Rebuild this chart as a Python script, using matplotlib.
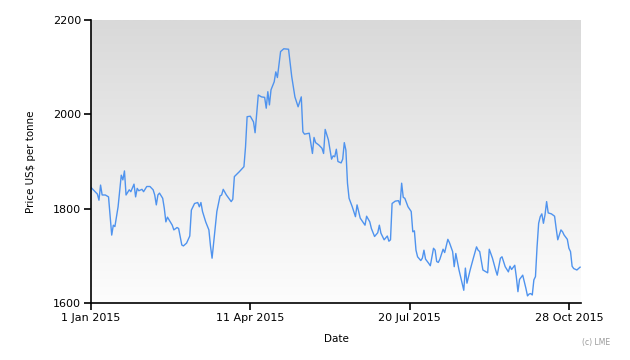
#!/usr/bin/env python3
import numpy as np
import pandas as pd
import matplotlib
matplotlib.use("Agg")
import matplotlib.pyplot as plt
import matplotlib.dates as mdates

# LME price series
dates = [
    "2015-01-01", "2015-01-05", "2015-01-06", "2015-01-07", "2015-01-08", "2015-01-10",
    "2015-01-12", "2015-01-14", "2015-01-15", "2015-01-16", "2015-01-18", "2015-01-20",
    "2015-01-21", "2015-01-22", "2015-01-23", "2015-01-25", "2015-01-26", "2015-01-28",
    "2015-01-29", "2015-01-30", "2015-01-31", "2015-02-02", "2015-02-03", "2015-02-05",
    "2015-02-07", "2015-02-09", "2015-02-10", "2015-02-11", "2015-02-12", "2015-02-13",
    "2015-02-15", "2015-02-16", "2015-02-17", "2015-02-18", "2015-02-21", "2015-02-22",
    "2015-02-24", "2015-02-25", "2015-02-27", "2015-02-28", "2015-03-02", "2015-03-04",
    "2015-03-05", "2015-03-07", "2015-03-09", "2015-03-10", "2015-03-11", "2015-03-12",
    "2015-03-14", "2015-03-16", "2015-03-17", "2015-03-18", "2015-03-20", "2015-03-21",
    "2015-03-23", "2015-03-24", "2015-03-25", "2015-03-27", "2015-03-30", "2015-03-31",
    "2015-04-01", "2015-04-04", "2015-04-07", "2015-04-08", "2015-04-09", "2015-04-11",
    "2015-04-13", "2015-04-14", "2015-04-16", "2015-04-18", "2015-04-20", "2015-04-21",
    "2015-04-22", "2015-04-23", "2015-04-24", "2015-04-26", "2015-04-27", "2015-04-28",
    "2015-04-30", "2015-05-02", "2015-05-05", "2015-05-07", "2015-05-09", "2015-05-11",
    "2015-05-13", "2015-05-14", "2015-05-15", "2015-05-18", "2015-05-20", "2015-05-21",
    "2015-05-22", "2015-05-24", "2015-05-26", "2015-05-27", "2015-05-28", "2015-05-30",
    "2015-06-01", "2015-06-02", "2015-06-03", "2015-06-04", "2015-06-05", "2015-06-07",
    "2015-06-08", "2015-06-09", "2015-06-10", "2015-06-11", "2015-06-12", "2015-06-14",
    "2015-06-16", "2015-06-17", "2015-06-19", "2015-06-22", "2015-06-23", "2015-06-25",
    "2015-06-26", "2015-06-28", "2015-06-30", "2015-07-01", "2015-07-02", "2015-07-04",
    "2015-07-06", "2015-07-07", "2015-07-08", "2015-07-09", "2015-07-11", "2015-07-13",
    "2015-07-14", "2015-07-15", "2015-07-16", "2015-07-17", "2015-07-19", "2015-07-21",
    "2015-07-22", "2015-07-23", "2015-07-24", "2015-07-25", "2015-07-27", "2015-07-28",
    "2015-07-29", "2015-07-30", "2015-08-01", "2015-08-02", "2015-08-04", "2015-08-05",
    "2015-08-06", "2015-08-07", "2015-08-08", "2015-08-10", "2015-08-11", "2015-08-13",
    "2015-08-14", "2015-08-16", "2015-08-17", "2015-08-18", "2015-08-20", "2015-08-21",
    "2015-08-23", "2015-08-24", "2015-08-25", "2015-08-27", "2015-08-29", "2015-08-31",
    "2015-09-01", "2015-09-02", "2015-09-04", "2015-09-06", "2015-09-07", "2015-09-08",
    "2015-09-10", "2015-09-12", "2015-09-13", "2015-09-15", "2015-09-16", "2015-09-18",
    "2015-09-20", "2015-09-21", "2015-09-22", "2015-09-24", "2015-09-25", "2015-09-26",
    "2015-09-27", "2015-09-29", "2015-10-01", "2015-10-02", "2015-10-03", "2015-10-04",
    "2015-10-05", "2015-10-06", "2015-10-07", "2015-10-08", "2015-10-09", "2015-10-10",
    "2015-10-11", "2015-10-12", "2015-10-13", "2015-10-14", "2015-10-15", "2015-10-17",
    "2015-10-19", "2015-10-20", "2015-10-21", "2015-10-23", "2015-10-24", "2015-10-25",
    "2015-10-27", "2015-10-28", "2015-10-29", "2015-10-30", "2015-10-31", "2015-11-02",
    "2015-11-04",
]
prices = [
    1845, 1831, 1818, 1850, 1829, 1829,
    1825, 1744, 1765, 1762, 1804, 1871,
    1861, 1880, 1829, 1840, 1836, 1852,
    1825, 1843, 1838, 1841, 1836, 1847,
    1847, 1840, 1829, 1808, 1829, 1833,
    1822, 1801, 1772, 1782, 1765, 1755,
    1760, 1758, 1723, 1721, 1727, 1742,
    1797, 1811, 1813, 1804, 1813, 1794,
    1772, 1755, 1721, 1695, 1762, 1794,
    1827, 1829, 1841, 1829, 1815, 1820,
    1868, 1878, 1889, 1931, 1995, 1996,
    1984, 1961, 2041, 2037, 2036, 2013,
    2048, 2020, 2052, 2069, 2090, 2078,
    2133, 2139, 2138, 2080, 2037, 2016,
    2037, 1963, 1958, 1960, 1917, 1951,
    1940, 1935, 1928, 1917, 1968, 1946,
    1905, 1912, 1910, 1926, 1900, 1897,
    1905, 1940, 1924, 1854, 1822, 1804,
    1783, 1808, 1780, 1765, 1784, 1772,
    1758, 1741, 1749, 1765, 1748, 1734,
    1742, 1731, 1734, 1811, 1816, 1817,
    1808, 1854, 1824, 1822, 1804, 1794,
    1751, 1753, 1712, 1698, 1690, 1695,
    1712, 1693, 1684, 1679, 1716, 1712,
    1688, 1686, 1693, 1714, 1707, 1735,
    1728, 1709, 1677, 1705, 1670, 1656,
    1627, 1674, 1642, 1670, 1695, 1719,
    1712, 1709, 1670, 1666, 1664, 1714,
    1695, 1670, 1659, 1695, 1698, 1677,
    1666, 1678, 1671, 1680, 1655, 1624,
    1650, 1659, 1631, 1615, 1619, 1620,
    1617, 1649, 1656, 1719, 1769, 1783,
    1789, 1769, 1787, 1815, 1791, 1789,
    1784, 1758, 1734, 1755, 1751, 1744,
    1735, 1716, 1709, 1678, 1673, 1670,
    1676,
]

tick_dates = ["2015-01-01", "2015-04-11", "2015-07-20", "2015-10-28"]
y_ticks = [1600, 1800, 2000, 2200]

x = pd.to_datetime(dates)

fig = plt.figure(figsize=(6.3, 3.6), dpi=100)
ax = fig.add_axes([91 / 630, 1 - 303 / 360, 490 / 630, 283 / 360])

# grey-to-white vertical gradient background
grad = np.linspace(0, 1, 256).reshape(-1, 1)
ax.imshow(grad, extent=[0, 1, 0, 1], transform=ax.transAxes, aspect="auto",
          cmap=plt.matplotlib.colors.LinearSegmentedColormap.from_list(
              "bg", ["#fdfdfd", "#d9d9d9"]),
          origin="lower", zorder=0)

ax.plot(x, prices, color="#4f93ee", lw=1.0, zorder=2)

ax.set_xlim(pd.Timestamp("2015-01-01"), pd.Timestamp("2015-11-04 14:00"))
ax.set_ylim(1600, 2200)

ax.set_xticks(pd.to_datetime(tick_dates))
ax.xaxis.set_major_formatter(mdates.DateFormatter("%-d %b %Y"))
ax.set_yticks(y_ticks)

for s in ["top", "right"]:
    ax.spines[s].set_visible(False)
for s in ["left", "bottom"]:
    ax.spines[s].set_linewidth(1.2)

ax.tick_params(direction="out", length=5, width=1.2, labelsize=8, pad=2)
ax.set_xlabel("Date", fontsize=7.5, labelpad=8)
ax.set_ylabel("Price US$ per tonne", fontsize=7.4, labelpad=12)

fig.text(0.968, 0.035, "(c) LME", fontsize=5.5, color="#999999", ha="right", va="bottom")

fig.savefig("out.png", dpi=100)
